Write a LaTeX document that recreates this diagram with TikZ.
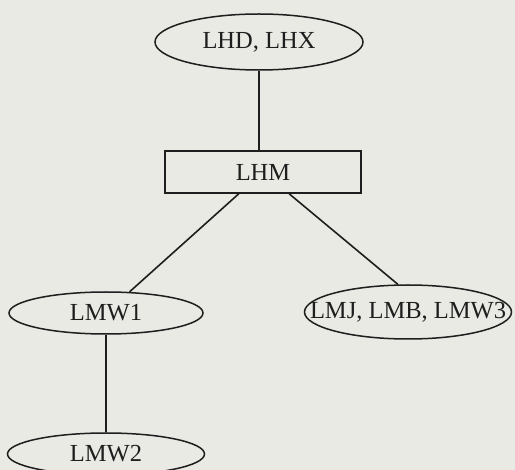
\documentclass[tikz,border=0pt]{standalone}
\usepackage{fontspec}
\setmainfont{Liberation Serif}
\usetikzlibrary{shapes.geometric}
\definecolor{paper}{RGB}{233,234,227}
\definecolor{ink}{RGB}{30,30,30}
\newcommand{\nowidth}[1]{\makebox[0pt]{#1}}
\begin{document}
\begin{tikzpicture}[x=1pt,y=-1pt,
  every node/.style={font=\fontsize{24.5}{28}\selectfont, text=ink, inner sep=0pt},
  ell/.style={draw=ink, line width=1.5pt, ellipse},
  box/.style={draw=ink, line width=1.5pt, rectangle},
  link/.style={draw=ink, line width=1.6pt}]
  \fill[paper] (0,0) rectangle (515,470);
  \useasboundingbox (0,0) rectangle (515,470);
  \node[ell, minimum width=208pt, minimum height=56pt] (top) at (259,42) {\nowidth{LHD, LHX}};
  \node[box, minimum width=196pt, minimum height=42pt] (lhm) at (263,172) {LHM};
  \node[ell, minimum width=194pt, minimum height=42pt] (lmw1) at (106,313) {\nowidth{LMW1}};
  \node[ell, minimum width=207pt, minimum height=54pt] (lmj) at (408,312) {\nowidth{LMJ, LMB, LMW3}};
  \node[ell, minimum width=197pt, minimum height=42pt] (lmw2) at (106,454) {\nowidth{LMW2}};
  \draw[link] (top) -- (top |- lhm.north);
  \draw[link] (lhm) -- (lmw1);
  \draw[link] (lhm) -- (lmj.110);
  \draw[link] (lmw1) -- (lmw2);
\end{tikzpicture}
\end{document}
